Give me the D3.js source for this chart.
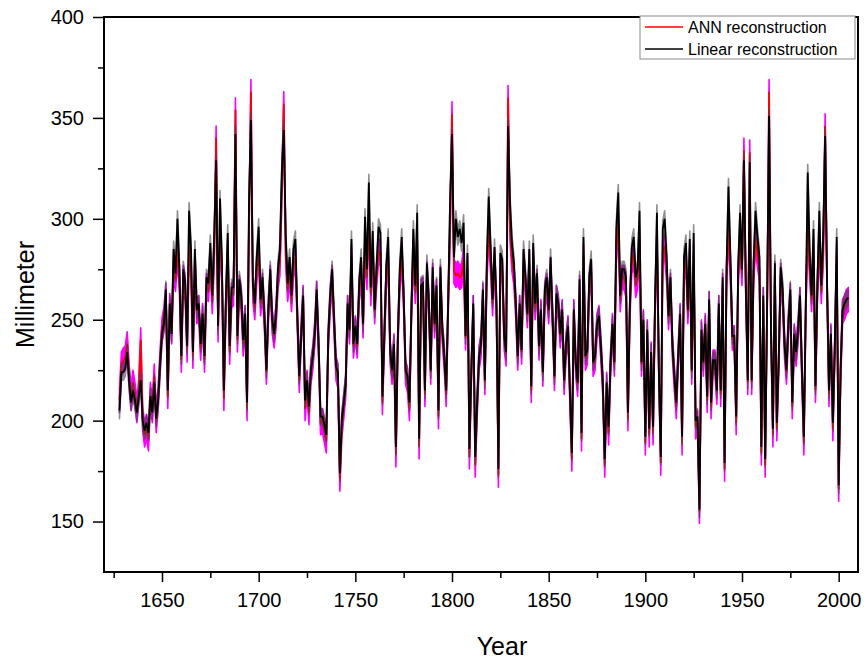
<!DOCTYPE html>
<html>
<head>
<meta charset="utf-8">
<script src="https://cdn.jsdelivr.net/npm/d3@7"></script>
<style>
  body { margin: 0; background: #fff; }
  text { font-family: "Liberation Sans", Arial, sans-serif; }
</style>
</head>
<body>
<svg id="chart" width="867" height="663"></svg>
<script>
// years 1628-2005, one value per year (mm)
const startYear = 1628;
const linear = [
  205,224,224,226,234,220,209,215,210,204,
  212,220,200,195,199,194,212,204,219,201,
  210,228,243,248,265,215,258,243,285,273,
  300,275,232,275,268,237,304,285,234,285,
  255,258,238,253,232,271,268,288,262,291,
  329,247,310,278,215,258,293,237,266,266,
  342,242,270,262,240,253,209,308,349,268,
  258,281,296,260,271,252,225,255,275,250,
  243,253,275,285,324,344,291,268,281,262,
  285,290,252,222,242,262,210,220,207,225,
  232,243,265,238,202,202,198,193,242,262,
  275,250,227,224,174,200,209,218,258,245,
  290,238,247,238,268,281,248,301,275,318,
  266,294,255,276,296,293,212,242,276,291,
  235,225,238,187,242,275,291,262,225,222,
  209,255,295,267,303,191,267,268,215,278,
  260,225,276,248,267,205,276,245,232,215,
  258,308,342,281,300,291,295,288,298,242,
  283,186,225,258,182,209,232,238,265,220,
  278,311,285,260,286,258,176,283,280,242,
  234,346,308,288,278,258,232,258,235,285,
  271,253,285,217,288,258,273,237,255,224,
  265,271,255,281,252,222,263,258,243,255,
  220,238,247,215,184,255,229,219,270,194,
  291,232,235,271,280,229,232,248,252,237,
  219,181,219,197,229,248,229,295,313,262,
  275,275,271,204,258,286,291,271,275,304,
  229,250,192,245,196,234,197,258,303,225,
  182,295,300,281,252,271,238,222,209,232,
  253,192,281,288,255,290,225,293,200,202,
  156,245,229,248,212,260,209,230,230,215,
  258,215,271,179,275,316,281,242,242,202,
  275,303,275,329,266,220,328,220,278,304,
  291,281,187,262,181,258,351,245,196,278,
  199,230,276,265,238,225,248,265,209,243,
  234,245,262,225,192,258,323,283,262,295,
  217,268,304,267,291,341,268,215,243,199,
  237,291,168,225,255,258,260,261
];
const ann = [
  210,228,230,231,238,222,211,219,213,205,
  215,240,201,193,197,191,213,205,222,200,
  211,229,245,250,262,212,257,244,276,270,
  284,271,230,271,265,235,286,277,232,277,
  254,256,236,252,230,267,265,279,259,282,
  340,245,293,273,211,256,284,234,262,263,
  354,240,266,260,238,251,206,296,363,265,
  256,274,284,258,267,250,224,254,271,249,
  242,252,271,278,315,357,282,265,274,260,
  277,281,251,220,244,261,206,219,204,224,
  231,243,263,237,199,200,195,190,240,260,
  271,249,226,222,171,197,207,217,256,244,
  281,237,246,237,265,274,247,286,271,300,
  263,284,254,272,284,283,209,241,271,282,
  234,224,237,183,241,270,282,260,224,220,
  206,254,284,264,288,187,264,265,213,273,
  258,224,272,247,264,202,271,244,231,213,
  257,294,352,274,272,273,271,272,280,241,
  276,182,224,256,178,207,231,237,262,219,
  273,296,278,258,279,256,173,276,274,241,
  233,360,295,280,273,256,231,256,234,278,
  267,252,278,215,280,256,269,236,254,223,
  262,267,254,275,251,221,261,256,242,254,
  219,237,246,213,181,254,228,218,266,191,
  282,231,234,267,274,228,231,247,251,236,
  218,178,218,194,228,247,228,284,298,260,
  271,271,267,201,256,279,282,267,271,290,
  228,249,189,244,193,233,194,256,289,224,
  179,284,286,275,251,267,237,221,207,231,
  252,189,275,280,254,281,224,283,197,199,
  155,244,228,247,210,258,207,229,229,214,
  256,213,267,176,271,295,275,241,241,199,
  271,289,273,334,263,219,333,219,273,290,
  282,275,184,260,178,256,363,244,193,273,
  196,229,272,262,237,224,247,262,207,242,
  233,244,260,224,189,256,297,276,260,284,
  215,265,290,264,282,346,265,213,242,196,
  236,282,166,224,254,256,259,260
];
const annSpread = 6;   // half width of the ANN band
const linSpread = 4;   // half width of the linear band

const xMajor = [1650, 1700, 1750, 1800, 1850, 1900, 1950, 2000];
const xMinor = [1625, 1675, 1725, 1775, 1825, 1875, 1925, 1975];
const yMajor = [150, 200, 250, 300, 350, 400];
const yMinor = [175, 225, 275, 325, 375];
const legendItems = [
  { name: 'ANN reconstruction', color: '#ff0000' },
  { name: 'Linear reconstruction', color: '#000000' }
];

const margin = { left: 104, top: 17, right: 9, bottom: 91 };
const width = 867, height = 663;

const svg = d3.select('#chart');

const data = linear.map((v, i) => ({ year: startYear + i, lin: v, ann: ann[i] }));

const x = d3.scaleLinear()
  .domain([1620, 2010])
  .range([margin.left, width - margin.right]);
const y = d3.scaleLinear()
  .domain([125, 400])
  .range([height - margin.bottom, margin.top]);

svg.append('clipPath').attr('id', 'clip')
  .append('rect')
  .attr('x', margin.left).attr('y', margin.top)
  .attr('width', x.range()[1] - margin.left)
  .attr('height', y.range()[0] - margin.top);

const plot = svg.append('g').attr('clip-path', 'url(#clip)');

// ANN band (magenta)
plot.append('path')
  .datum(data)
  .attr('fill', '#ff00ff')
  .attr('stroke', '#ff00ff')
  .attr('stroke-width', 1.6)
  .attr('stroke-linejoin', 'round')
  .attr('d', d3.area()
    .x(d => x(d.year))
    .y0(d => y(d.ann - annSpread))
    .y1(d => y(d.ann + annSpread)));

// ANN line
plot.append('path')
  .datum(data)
  .attr('fill', 'none')
  .attr('stroke', '#ff0000')
  .attr('stroke-width', 1.8)
  .attr('d', d3.line().x(d => x(d.year)).y(d => y(d.ann)));

// linear band (grey, see-through)
plot.append('g')
  .attr('opacity', 0.6)
  .append('path')
  .datum(data)
  .attr('fill', '#444')
  .attr('stroke', '#444')
  .attr('stroke-width', 1.6)
  .attr('stroke-linejoin', 'round')
  .attr('d', d3.area()
    .x(d => x(d.year))
    .y0(d => y(d.lin - linSpread))
    .y1(d => y(d.lin + linSpread)));

// linear line
plot.append('path')
  .datum(data)
  .attr('fill', 'none')
  .attr('stroke', '#000000')
  .attr('stroke-width', 1.8)
  .attr('d', d3.line().x(d => x(d.year)).y(d => y(d.lin)));

// axes
svg.append('g')
  .attr('transform', `translate(0,${y.range()[0]})`)
  .call(d3.axisBottom(x).tickValues(xMajor).tickFormat(d3.format('d')).tickSize(10).tickPadding(11));
svg.append('g')
  .attr('transform', `translate(0,${y.range()[0]})`)
  .call(d3.axisBottom(x).tickValues(xMinor).tickFormat('').tickSize(6));

svg.append('g')
  .attr('transform', `translate(${margin.left},0)`)
  .call(d3.axisLeft(y).tickValues(yMajor).tickSize(11).tickPadding(9));
svg.append('g')
  .attr('transform', `translate(${margin.left},0)`)
  .call(d3.axisLeft(y).tickValues(yMinor).tickFormat('').tickSize(6));

svg.selectAll('.domain').remove();
svg.selectAll('.tick line').attr('stroke', '#000').attr('stroke-width', 1.5);
svg.selectAll('.tick text').attr('fill', '#000').style('font-size', '20px');

// frame
svg.append('rect')
  .attr('x', margin.left).attr('y', margin.top)
  .attr('width', x.range()[1] - margin.left)
  .attr('height', y.range()[0] - margin.top)
  .attr('fill', 'none')
  .attr('stroke', '#000')
  .attr('stroke-width', 2);

// axis titles
svg.append('text')
  .attr('x', 502).attr('y', 655)
  .attr('text-anchor', 'middle')
  .style('font-size', '25px')
  .text('Year');
svg.append('text')
  .attr('transform', `translate(34,${(margin.top + y.range()[0]) / 2}) rotate(-90)`)
  .attr('text-anchor', 'middle')
  .style('font-size', '25px')
  .text('Millimeter');

// legend
const legend = svg.append('g').attr('transform', 'translate(640,16)');
legend.append('rect')
  .attr('width', 215).attr('height', 43)
  .attr('fill', '#fff')
  .attr('stroke', '#888')
  .attr('stroke-width', 1);
legendItems.forEach((item, i) => {
  const ly = 11 + i * 22;
  legend.append('line')
    .attr('x1', 5).attr('x2', 43)
    .attr('y1', ly).attr('y2', ly)
    .attr('stroke', item.color)
    .attr('stroke-width', 1.5);
  legend.append('text')
    .attr('x', 48).attr('y', ly + 6)
    .style('font-size', '16px')
    .text(item.name);
});
</script>
</body>
</html>
